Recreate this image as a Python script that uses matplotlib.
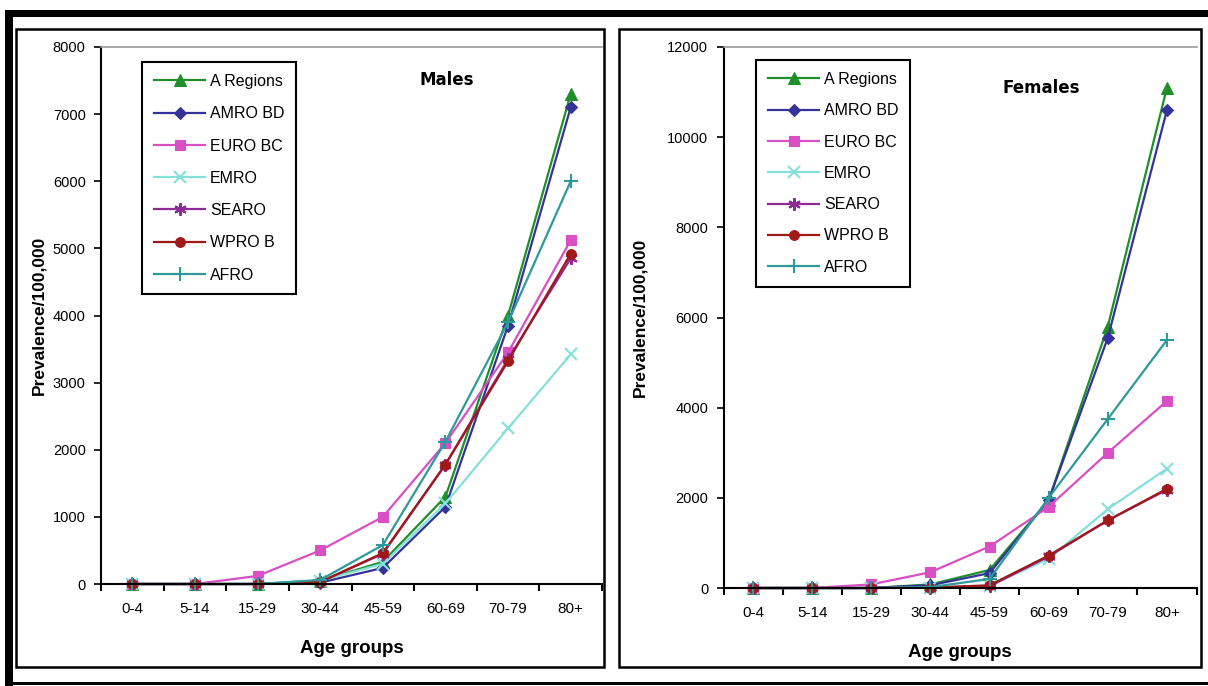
import matplotlib
matplotlib.use("Agg")
import matplotlib.pyplot as plt
from matplotlib.patches import Rectangle
from matplotlib.ticker import MultipleLocator, FixedLocator

plt.rcParams['font.family'] = ['Liberation Sans', 'DejaVu Sans']

# ---- data ----
ages = ['0-4', '5-14', '15-29', '30-44', '45-59', '60-69', '70-79', '80+']
regions = ['A Regions', 'AMRO BD', 'EURO BC', 'EMRO', 'SEARO', 'WPRO B', 'AFRO']

males_a = [0, 0, 0, 50, 330, 1300, 4000, 7300]
males_amro = [0, 0, 0, 20, 240, 1150, 3850, 7100]
males_euro = [0, 0, 120, 500, 1000, 2100, 3450, 5120]
males_emro = [0, 0, 0, 50, 300, 1200, 2320, 3420]
males_searo = [0, 0, 0, 30, 450, 1780, 3350, 4850]
males_wpro = [0, 0, 0, 30, 460, 1780, 3320, 4920]
males_afro = [0, 0, 0, 60, 580, 2120, 3900, 6000]

females_a = [0, 0, 0, 80, 400, 1950, 5800, 11100]
females_amro = [0, 0, 0, 60, 330, 1950, 5550, 10600]
females_euro = [0, 0, 80, 350, 920, 1800, 3000, 4150]
females_emro = [0, 0, 0, 10, 50, 650, 1750, 2650]
females_searo = [0, 0, 0, 10, 40, 700, 1500, 2180]
females_wpro = [0, 0, 0, 10, 60, 720, 1500, 2200]
females_afro = [0, 0, 0, 20, 200, 2000, 3750, 5500]

males = [males_a, males_amro, males_euro, males_emro, males_searo, males_wpro, males_afro]
females = [females_a, females_amro, females_euro, females_emro, females_searo, females_wpro, females_afro]

# ---- styles ----
colors = ['#1f8f2a', '#35339a', '#d94fc4', '#86e0da', '#8e2a96', '#a01818', '#2f9a9a']
markers = ['^', 'D', 's', 'x', (6, 2, 0), 'o', '+']
msizes = [8, 6, 7, 8, 9, 7, 10]

W, H = 1208, 686
fig = plt.figure(figsize=(W / 100, H / 100), dpi=100)


def px_rect(x0, y0, x1, y1, **kw):
    # rectangle given in pixel coords, origin top-left
    r = Rectangle((x0 / W, 1 - y1 / H), (x1 - x0) / W, (y1 - y0) / H,
                  transform=fig.transFigure, **kw)
    fig.add_artist(r)


# outer frame
px_rect(5, 10, W, 17, facecolor='black', edgecolor='none')
px_rect(5, 10, 13, H, facecolor='black', edgecolor='none')
px_rect(5, 682, W, 685, facecolor='black', edgecolor='none')
# panel boxes
px_rect(16, 29, 604, 667, facecolor='none', edgecolor='black', linewidth=1.8)
px_rect(619, 29, 1201, 667, facecolor='none', edgecolor='black', linewidth=1.8)


def make_panel(rect, series, ymax, ystep, title, tpos, legpos, ylab_x, xlab_y, lspace):
    ax = fig.add_axes(rect)
    x = list(range(len(ages)))
    for vals, lab, c, m, ms in zip(series, regions, colors, markers, msizes):
        ax.plot(x, vals, color=c, marker=m, markersize=ms, linewidth=1.6,
                markeredgewidth=1.5 if m in ('x', '+', (6, 2, 0)) else 0.8,
                markeredgecolor=c, label=lab, clip_on=False)
    ax.set_xlim(-0.5, len(ages) - 0.5)
    ax.set_ylim(0, ymax)
    ax.yaxis.set_major_locator(MultipleLocator(ystep))
    ax.set_xticks(x)
    ax.set_xticklabels(ages)
    ax.xaxis.set_minor_locator(FixedLocator([i + 0.5 for i in range(-1, len(ages))]))
    ax.tick_params(axis='x', which='major', length=0, pad=13, labelsize=11)
    ax.tick_params(axis='x', which='minor', length=5, width=1.5, direction='out')
    ax.tick_params(axis='y', length=5, width=1.2, direction='out', pad=6, labelsize=10.5)
    for s in ('left', 'bottom'):
        ax.spines[s].set_linewidth(1.5)
        ax.spines[s].set_color('black')
    ax.spines['top'].set_color('#9a9a9a')
    ax.spines['top'].set_linewidth(1.2)
    ax.spines['right'].set_visible(False)
    ax.set_xlabel('Age groups', fontsize=13.5, fontweight='bold')
    ax.xaxis.set_label_coords(0.5, xlab_y)
    ax.set_ylabel('Prevalence/100,000', fontsize=12.5, fontweight='bold')
    ax.yaxis.set_label_coords(ylab_x, 0.5)
    ax.text(tpos[0], tpos[1], title, transform=ax.transAxes, fontsize=12,
            fontweight='bold', family='DejaVu Sans', ha='center', va='center')
    leg = ax.legend(loc='upper left', bbox_to_anchor=legpos, borderaxespad=0,
                    fontsize=11.5, handlelength=3.2, handletextpad=0.3,
                    labelspacing=lspace, fancybox=False, framealpha=1,
                    edgecolor='black', borderpad=0.75)
    leg.get_frame().set_linewidth(1.5)
    return ax


make_panel([101 / W, 1 - 584 / H, 501 / W, 537 / H], males, 8000, 1000,
           'Males', (0.69, 0.939), (0.082, 0.972), -0.110, -0.105, 1.08)
make_panel([723.5 / W, 1 - 588 / H, 473 / W, 541 / H], females, 12000, 2000,
           'Females', (0.671, 0.924), (0.069, 0.976), -0.160, -0.103, 1.02)

fig.savefig('out.png', dpi=100)
